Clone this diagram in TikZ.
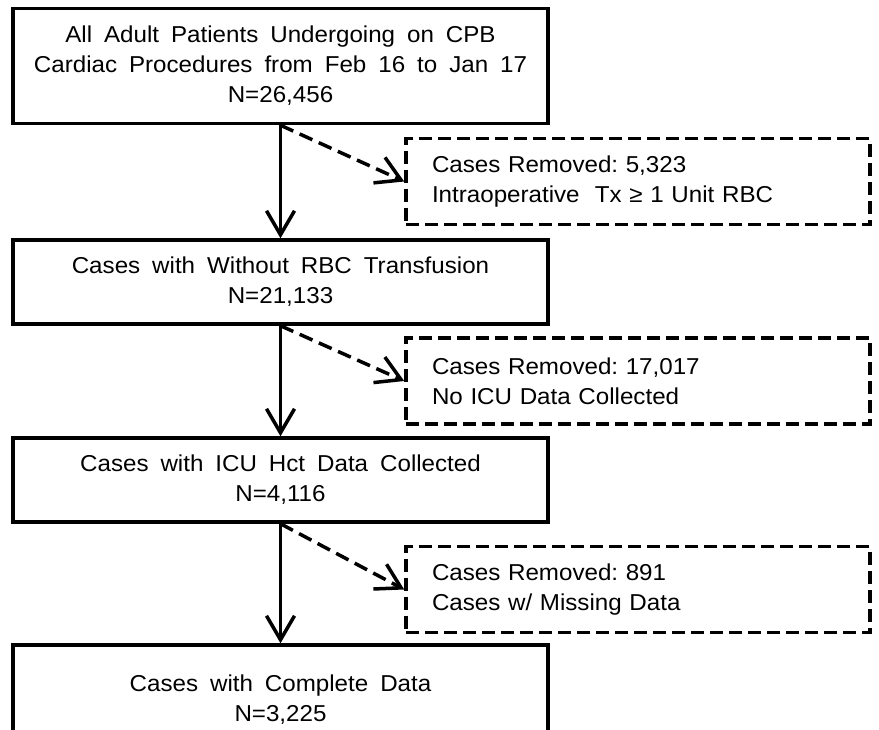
\documentclass[tikz,border=0pt]{standalone}
\usepackage{fontspec}
\setmainfont{Liberation Sans}[FakeStretch=1.05]
\usetikzlibrary{arrows.meta}

\newcommand{\widegaps}{\spaceskip 0.52em plus 0.1em\relax}

\tikzset{
  mainbox/.style={draw, line width=3.5pt, minimum width=535pt, align=center,
    font=\fontsize{23}{30}\selectfont\frenchspacing\widegaps},
  cutbox/.style={draw, line width=3.5pt, dash pattern=on 13pt off 6pt,
    text width=412pt, inner xsep=26pt, minimum height=86pt, align=left,
    font=\fontsize{23}{30}\selectfont\frenchspacing},
  flow/.style={line width=3.5pt, -{Straight Barb[length=24pt,width=28pt]}},
}

\begin{document}
\begin{tikzpicture}[x=1pt,y=-1pt]
\useasboundingbox (0,0) rectangle (879,729);
\clip (0,0) rectangle (879,729);
% main stages
\node[mainbox, minimum height=115pt] (all) at (280.5,66)
  {All Adult Patients Undergoing on CPB\\Cardiac Procedures from Feb 16 to Jan 17\\N=26,456};
\node[mainbox, minimum height=84pt] (norbc) at (280.5,282)
  {Cases with Without RBC Transfusion\\N=21,133};
\node[mainbox, minimum height=84pt] (icu) at (280.5,480)
  {Cases with ICU Hct Data Collected\\N=4,116};
\node[mainbox, minimum height=110pt] (final) at (280.5,700)
  {Cases with Complete Data\\N=3,225};
% removed cases
\node[cutbox] (rm1) at (638,181.5) {Cases Removed: 5,323\\Intraoperative\ \ Tx ≥ 1 Unit RBC};
\node[cutbox] (rm2) at (638,381) {Cases Removed: 17,017\\No ICU Data Collected};
\node[cutbox] (rm3) at (638,589.5) {Cases Removed: 891\\Cases w/ Missing Data};
% arrows
\draw[flow] (all) -- (norbc);
\draw[flow] (norbc) -- (icu);
\draw[flow] (icu) -- (final);
\draw[flow, dash pattern=on 14pt off 7pt] (all.south) -- (rm1.west);
\draw[flow, dash pattern=on 14pt off 7pt] (norbc.south) -- (rm2.west);
\draw[flow, dash pattern=on 14pt off 7pt] (icu.south) -- (rm3.west);
\end{tikzpicture}
\end{document}
